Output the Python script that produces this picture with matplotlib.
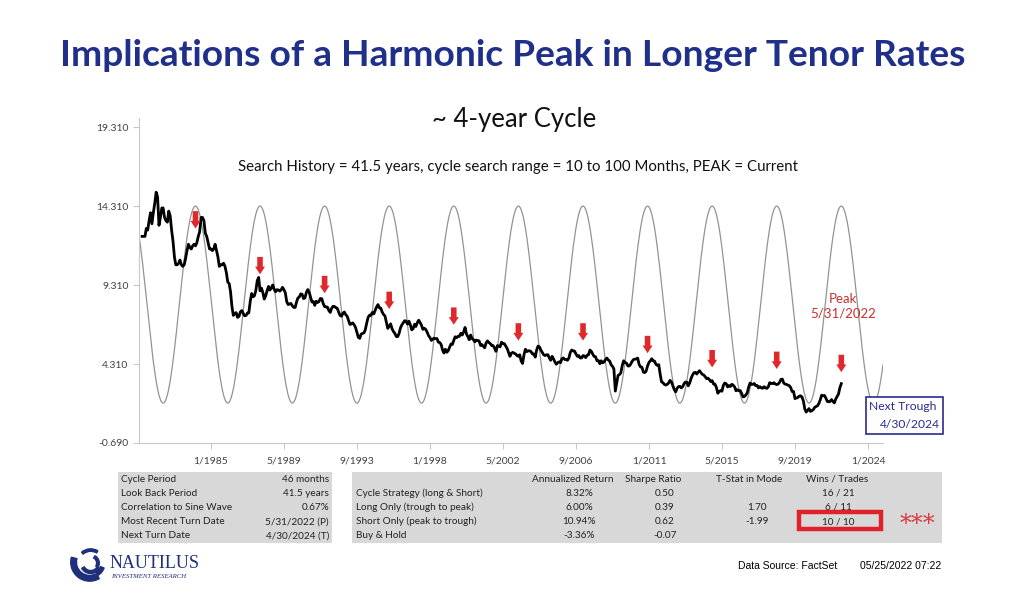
import numpy as np
import pandas as pd
import matplotlib
matplotlib.use("Agg")
import matplotlib.pyplot as plt
from matplotlib.patches import Rectangle, Wedge

# monthly long bond yield (Nov 1980 .. May 2022)
y1980 = [12.4, 12.4]
y1981 = [12.4, 12.9, 12.8, 13.4, 13.9, 13.2, 13.9, 14.5, 15.2, 14.9, 13.1, 13.6]
y1982 = [14.2, 14.2, 13.6, 13.4, 13.3, 14.0, 13.7, 12.8, 12.1, 11.1, 10.6, 10.6]
y1983 = [10.7, 10.9, 10.6, 10.5, 10.6, 11.0, 11.5, 11.9, 11.7, 11.6, 11.8, 11.9]
y1984 = [11.8, 12.0, 12.4, 12.7, 13.6, 13.6, 13.4, 12.6, 12.4, 12.0, 11.6, 11.6]
y1985 = [11.5, 11.6, 11.9, 11.5, 11.1, 10.5, 10.6, 10.6, 10.7, 10.5, 10.1, 9.5]
y1986 = [9.4, 8.9, 7.96, 7.39, 7.52, 7.57, 7.27, 7.33, 7.62, 7.70, 7.52, 7.37]
y1987 = [7.39, 7.54, 7.55, 8.25, 8.78, 8.57, 8.64, 8.97, 9.59, 9.8, 8.95, 9.12]
y1988 = [8.83, 8.43, 8.63, 8.95, 9.23, 9.00, 9.14, 9.32, 9.06, 8.89, 9.02, 9.01]
y1989 = [8.93, 9.01, 9.17, 9.03, 8.83, 8.27, 8.08, 8.12, 8.15, 8.00, 7.90, 7.90]
y1990 = [8.26, 8.50, 8.56, 8.76, 8.73, 8.46, 8.50, 8.86, 9.03, 8.86, 8.54, 8.24]
y1991 = [8.27, 8.03, 8.29, 8.21, 8.27, 8.47, 8.45, 8.14, 7.95, 7.93, 7.92, 7.70]
y1992 = [7.58, 7.85, 7.97, 7.96, 7.89, 7.84, 7.60, 7.39, 7.34, 7.53, 7.61, 7.44]
y1993 = [7.34, 7.09, 6.82, 6.85, 6.92, 6.81, 6.63, 6.32, 6.00, 5.94, 6.21, 6.25]
y1994 = [6.29, 6.49, 6.91, 7.27, 7.41, 7.40, 7.58, 7.49, 7.71, 7.94, 8.08, 7.87]
y1995 = [7.85, 7.61, 7.45, 7.36, 6.95, 6.57, 6.72, 6.86, 6.55, 6.37, 6.26, 6.06]
y1996 = [6.05, 6.24, 6.60, 6.79, 6.93, 7.06, 7.03, 6.84, 7.03, 6.81, 6.48, 6.55]
y1997 = [6.83, 6.69, 6.93, 7.09, 6.94, 6.77, 6.51, 6.58, 6.50, 6.33, 6.11, 5.99]
y1998 = [5.81, 5.89, 5.95, 5.92, 5.93, 5.70, 5.68, 5.54, 5.20, 5.01, 5.25, 5.06]
y1999 = [5.16, 5.37, 5.58, 5.55, 5.81, 6.04, 5.98, 6.07, 6.07, 6.26, 6.15, 6.35]
y2000 = [6.63, 6.23, 6.05, 5.85, 6.15, 5.93, 5.85, 5.72, 5.83, 5.80, 5.78, 5.49]
y2001 = [5.54, 5.45, 5.34, 5.65, 5.78, 5.67, 5.61, 5.48, 5.48, 5.32, 5.12, 5.48]
y2002 = [5.45, 5.40, 5.70, 5.60, 5.60, 5.45, 5.30, 5.05, 4.80, 5.00, 5.05, 5.00]
y2003 = [4.95, 4.85, 4.80, 4.90, 4.50, 4.35, 4.90, 5.25, 5.10, 5.15, 5.15, 5.10]
y2004 = [4.95, 4.95, 4.75, 5.20, 5.45, 5.40, 5.20, 5.05, 4.90, 4.85, 4.90, 4.90]
y2005 = [4.70, 4.55, 4.80, 4.65, 4.45, 4.30, 4.40, 4.45, 4.40, 4.65, 4.70, 4.60]
y2006 = [4.60, 4.55, 4.70, 5.05, 5.20, 5.15, 5.13, 4.95, 4.80, 4.85, 4.70, 4.70]
y2007 = [4.85, 4.82, 4.72, 4.87, 4.90, 5.20, 5.11, 4.93, 4.79, 4.77, 4.52, 4.53]
y2008 = [4.33, 4.52, 4.39, 4.44, 4.60, 4.69, 4.57, 4.50, 4.27, 4.17, 4.00, 2.60]
y2009 = [3.13, 3.59, 3.64, 3.76, 4.23, 4.52, 4.41, 4.37, 4.19, 4.19, 4.31, 4.49]
y2010 = [4.60, 4.62, 4.64, 4.69, 4.29, 4.13, 4.11, 3.80, 3.77, 3.87, 4.19, 4.42]
y2011 = [4.52, 4.65, 4.51, 4.50, 4.29, 4.23, 4.27, 3.65, 3.18, 3.13, 3.02, 2.98]
y2012 = [3.03, 3.11, 3.28, 3.18, 2.93, 2.70, 2.55, 2.77, 2.88, 2.90, 2.80, 2.88]
y2013 = [3.08, 3.17, 3.16, 2.93, 3.11, 3.40, 3.61, 3.76, 3.79, 3.68, 3.80, 3.89]
y2014 = [3.77, 3.66, 3.62, 3.52, 3.39, 3.42, 3.33, 3.20, 3.26, 3.04, 3.04, 2.83]
y2015 = [2.46, 2.57, 2.63, 2.59, 2.96, 3.11, 3.07, 2.86, 2.95, 2.89, 3.03, 2.97]
y2016 = [2.86, 2.62, 2.68, 2.62, 2.63, 2.45, 2.23, 2.26, 2.35, 2.50, 2.86, 3.11]
y2017 = [3.02, 3.03, 3.08, 2.94, 2.96, 2.80, 2.88, 2.80, 2.78, 2.88, 2.80, 2.77]
y2018 = [2.88, 3.13, 3.09, 3.07, 3.13, 3.05, 3.01, 3.04, 3.15, 3.34, 3.36, 3.10]
y2019 = [3.04, 3.02, 2.98, 2.94, 2.82, 2.57, 2.57, 2.12, 2.16, 2.19, 2.28, 2.30]
y2020 = [2.22, 1.97, 1.46, 1.27, 1.38, 1.49, 1.31, 1.36, 1.42, 1.57, 1.62, 1.67]
y2021 = [1.82, 2.04, 2.34, 2.30, 2.32, 2.16, 1.94, 1.92, 1.94, 2.06, 1.94, 1.85]
y2022 = [2.10, 2.25, 2.41, 2.81, 3.07]

rates = (y1980 + y1981 + y1982 + y1983 + y1984 + y1985 + y1986 + y1987 + y1988
         + y1989 + y1990 + y1991 + y1992 + y1993 + y1994 + y1995 + y1996 + y1997
         + y1998 + y1999 + y2000 + y2001 + y2002 + y2003 + y2004 + y2005 + y2006
         + y2007 + y2008 + y2009 + y2010 + y2011 + y2012 + y2013 + y2014 + y2015
         + y2016 + y2017 + y2018 + y2019 + y2020 + y2021 + y2022)
dates = pd.date_range("1980-11-30", periods=len(rates), freq="ME")

# fitted cycle
cycle_months = 46
peak_date = pd.Timestamp("2022-05-31")
sine_mid = 8.08
sine_amp = 6.24

# red arrow tips above each cycle peak (oldest first)
arrow_tips = [12.9, 10.0, 8.8, 7.8, 6.8, 5.8, 5.8, 5.0, 4.1, 4.0, 3.8]

yticks = [-0.69, 4.31, 9.31, 14.31, 19.31]
xtick_dates = ["1985-01-01", "1989-05-01", "1993-09-01", "1998-01-01", "2002-05-01",
               "2006-09-01", "2011-01-01", "2015-05-01", "2019-09-01", "2024-01-01"]
xtick_labels = ["1/1985", "5/1989", "9/1993", "1/1998", "5/2002",
                "9/2006", "1/2011", "5/2015", "9/2019", "1/2024"]

left_rows = [("Cycle Period", "46 months"),
             ("Look Back Period", "41.5 years"),
             ("Correlation to Sine Wave", "0.67%"),
             ("Most Recent Turn Date", "5/31/2022 (P)"),
             ("Next Turn Date", "4/30/2024 (T)")]
right_header = ["Annualized Return", "Sharpe Ratio", "T-Stat in Mode", "Wins / Trades"]
right_rows = [("Cycle Strategy (long & Short)", "8.32%", "0.50", "", "16 / 21"),
              ("Long Only (trough to peak)", "6.00%", "0.39", "1.70", "6 / 11"),
              ("Short Only (peak to trough)", "10.94%", "0.62", "-1.99", "10 / 10"),
              ("Buy & Hold", "-3.36%", "-0.07", "", "")]

plt.rcParams['font.family'] = ['Lato', 'DejaVu Sans']

W, H = 1024, 607
fig = plt.figure(figsize=(W / 100, H / 100), dpi=100)

def fx(px):
    return px / W

def fy(py):
    return 1 - py / H

ax = fig.add_axes([fx(139), fy(443), fx(883) - fx(139), fy(118) - fy(443)])

sine_x = pd.date_range("1980-09-20", "2024-11-20", freq="3D")
months_from_peak = (sine_x - peak_date).days / 30.4375
sine_y = sine_mid + sine_amp * np.cos(2 * np.pi * months_from_peak / cycle_months)
ax.plot(sine_x, sine_y, color="#939393", lw=0.9)
ax.plot(dates, rates, color="black", lw=2.0)

peaks = [peak_date - pd.DateOffset(months=cycle_months * k)
         for k in range(len(arrow_tips) - 1, -1, -1)]
for d, tip in zip(peaks, arrow_tips):
    ax.annotate("", xy=(d, tip), xytext=(d, tip + 1.1),
                arrowprops=dict(arrowstyle="simple,head_length=0.55,head_width=0.72,tail_width=0.4",
                                color="#e0282c", lw=0, shrinkA=0, shrinkB=0))

ax.set_xlim(pd.Timestamp("1980-09-23"), pd.Timestamp("2024-11-20"))
ax.set_ylim(-0.69, 19.9)
ax.set_yticks(yticks)
ax.set_yticklabels(["%.3f" % v for v in yticks])
ax.set_xticks(pd.to_datetime(xtick_dates))
ax.set_xticklabels(xtick_labels)
for s in ["top", "right"]:
    ax.spines[s].set_visible(False)
for s in ["left", "bottom"]:
    ax.spines[s].set_color("#c8c8c8")
ax.tick_params(axis="both", colors="#c8c8c8", labelcolor="#404040", labelsize=7.5,
               length=4, width=0.8)
ax.tick_params(axis="x", pad=6)

ax.text(pd.Timestamp("2022-07-01"), 8.0, "Peak\n5/31/2022", color="#c9302c",
        fontsize=9.5, ha="center", va="center", linespacing=1.25)

# title block
fig.text(fx(513), fy(55), "Implications of a Harmonic Peak in Longer Tenor Rates",
         fontsize=26.7, fontweight="bold", color="#1f2f8a", ha="center", va="center")
fig.text(fx(514), fy(119), "~ 4-year Cycle", fontsize=18.5, ha="center", va="center",
         color="#111111")
fig.text(fx(518), fy(167),
         "Search History = 41.5 years, cycle search range = 10 to 100 Months, PEAK = Current",
         fontsize=10.8, ha="center", va="center", color="#111111")

# next trough box
fig.patches.append(Rectangle((fx(866), fy(434)), fx(943) - fx(866), fy(397) - fy(434),
                             transform=fig.transFigure, facecolor="white",
                             edgecolor="#2b2b8c", lw=1.2))
fig.text(fx(869), fy(407), "Next Trough", fontsize=8.7, color="#2b2b8c", va="center")
fig.text(fx(940), fy(424), "4/30/2024", fontsize=8.7, color="#2b2b8c", va="center",
         ha="right")

# tables
gray = "#d8d8d8"
row_h = 14.2
top = 472
fig.patches.append(Rectangle((fx(118), fy(top + 5 * row_h)), fx(332) - fx(118),
                             fy(top) - fy(top + 5 * row_h), transform=fig.transFigure,
                             facecolor=gray, edgecolor="none"))
fig.patches.append(Rectangle((fx(352), fy(top + 5 * row_h)), fx(942) - fx(352),
                             fy(top) - fy(top + 5 * row_h), transform=fig.transFigure,
                             facecolor=gray, edgecolor="none"))
tfs = 7.2
for i, (lab, val) in enumerate(left_rows):
    yy = fy(top + row_h * (i + 0.5))
    fig.text(fx(121), yy, lab, fontsize=tfs, va="center", color="#222222")
    fig.text(fx(329), yy, val, fontsize=tfs, va="center", ha="right", color="#222222")

head_x = [573, 653, 749, 837]
val_x = [579, 665, 757, 838]
for cx, h in zip(head_x, right_header):
    fig.text(fx(cx), fy(top + row_h * 0.5), h, fontsize=tfs, va="center", ha="center",
             color="#222222")
for i, row in enumerate(right_rows):
    yy = fy(top + row_h * (i + 1.5))
    fig.text(fx(356), yy, row[0], fontsize=tfs, va="center", color="#222222")
    for cx, v in zip(val_x, row[1:]):
        fig.text(fx(cx), yy, v, fontsize=tfs, va="center", ha="center", color="#222222")

fig.patches.append(Rectangle((fx(799), fy(529)), fx(881) - fx(799), fy(512) - fy(529),
                             transform=fig.transFigure, facecolor="none",
                             edgecolor="#e0202a", lw=3.2))
fig.text(fx(917), fy(524), "***", fontsize=17, color="#d8383e", ha="center", va="center",
         family="DejaVu Serif")

# footer
fig.text(fx(738), fy(566), "Data Source: FactSet", fontsize=7.5, va="center",
         family="Liberation Sans")
fig.text(fx(941), fy(566), "05/25/2022 07:22", fontsize=7.5, va="center", ha="right",
         family="Liberation Sans")

# logo
navy = "#1f2f7a"
lax = fig.add_axes([fx(60), fy(584), fx(110) - fx(60), fy(546) - fy(584)])
lax.set_xlim(-1.3, 1.3)
lax.set_ylim(-1, 1)
lax.set_aspect("equal")
lax.axis("off")
lax.add_patch(Wedge((0.25, 0.15), 1.0, 165, 300, width=0.3, color=navy))
lax.add_patch(Wedge((0.3, 0.1), 0.55, 210, 330, width=0.16, color=navy))
lax.add_patch(Wedge((0.3, 0.1), 0.75, 60, 130, width=0.13, color=navy))
lax.add_patch(Wedge((0.3, 0.1), 0.45, 330, 60, width=0.14, color=navy))
lax.add_patch(Wedge((0.3, 0.1), 0.75, 300, 340, width=0.2, color=navy))
fig.text(fx(110), fy(563), "NAUTILUS", fontsize=13, color=navy, va="center",
         family="Liberation Serif")
fig.text(fx(111), fy(576), "INVESTMENT RESEARCH", fontsize=4.9, color=navy, va="center",
         family="Liberation Serif", style="italic")

fig.savefig("out.png", dpi=100)
